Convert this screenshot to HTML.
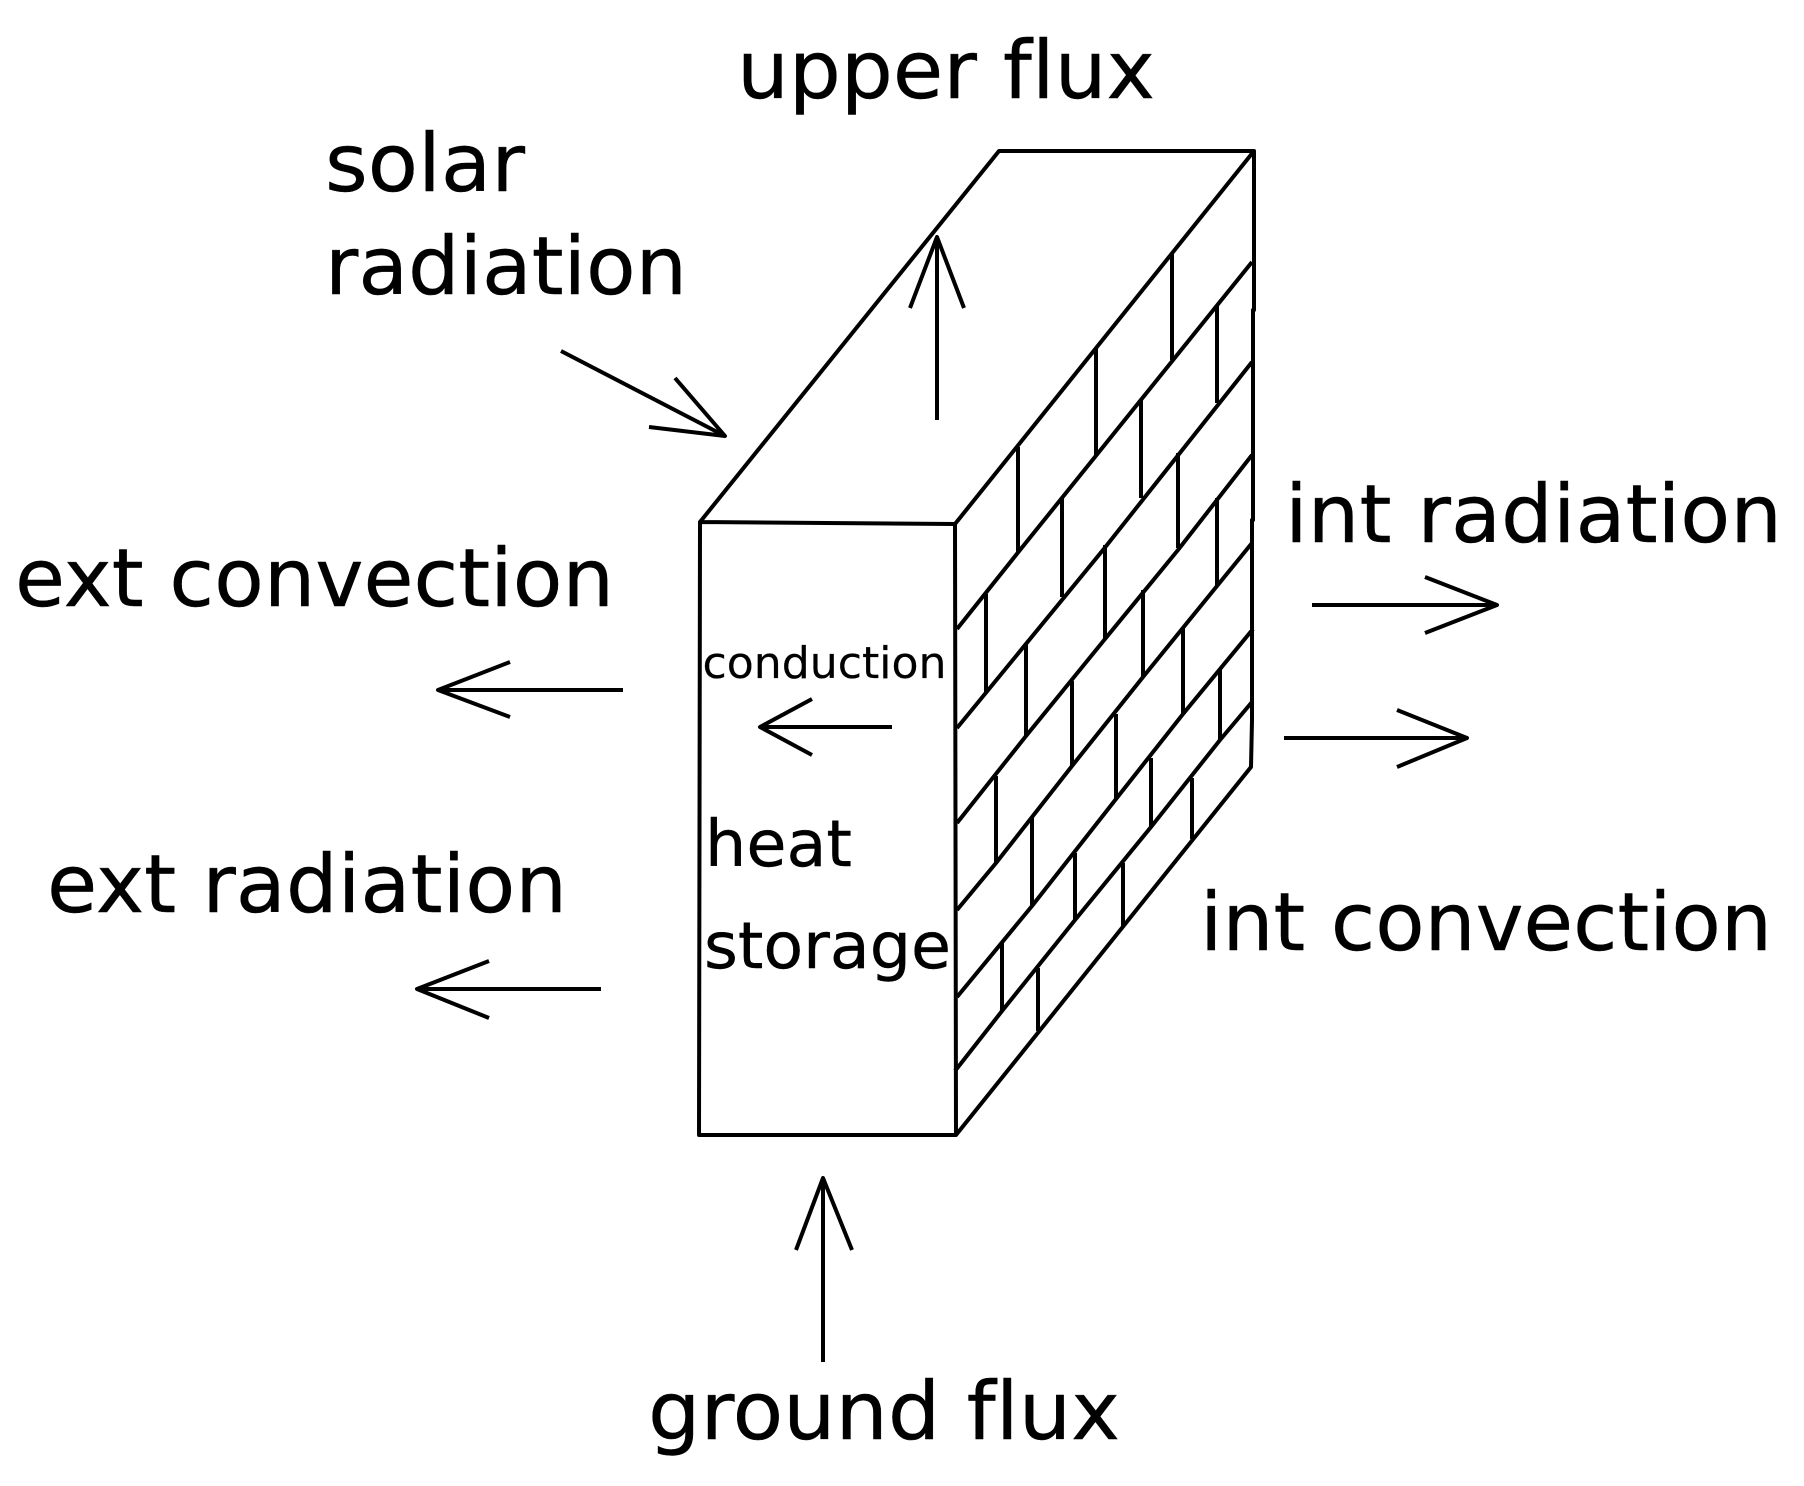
<!DOCTYPE html>
<html><head><meta charset="utf-8"><style>
html,body{margin:0;padding:0;background:#fff;width:1804px;height:1486px;overflow:hidden}
svg{display:block}
text{font-family:"DejaVu Sans",sans-serif;fill:#000;stroke:#000;stroke-width:.4px;font-variant-ligatures:none;font-feature-settings:"liga" 0,"clig" 0}
.b{font-size:80px}
.h{font-size:64px}
.c{font-size:44px;stroke-width:.2px}
</style></head><body>
<svg width="1804" height="1486" viewBox="0 0 1804 1486" xmlns="http://www.w3.org/2000/svg">
<g fill="none" stroke="#000" stroke-width="4" stroke-linejoin="round" stroke-linecap="butt">
<path d="M700 522L999 151H1254V310H1253V520H1252V720L1251 767L956 1135H699L700 522L955 524L956 1135"/>
<path d="M955 524L1254 151"/>
<path d="M957 629L1020 550L1252 262"/>
<path d="M957 728L1103 550L1252 362"/>
<path d="M957 823L1026 736L1105 639L1178 550L1252 455"/>
<path d="M957 910L996 863L1072 766L1143 677L1217 586L1252 543"/>
<path d="M957 997L1032 906L1116 799L1183 714L1253 629"/>
<path d="M955 1071L1002 1011L1075 920L1151 827L1220 740L1252 702"/>
<path d="M1172 253V360M1096 348V455M1018 447V552M1217 305V403M1141 400V498M1062 498V597M1178 453V548M1105 545V639M1217 498V586"/>
<path d="M986 594V693M1026 643V736M1072 681V766M1143 590V677M1183 627V714M1220 669V740M996 776V863M1032 817V906M1116 714V799M1151 758V827M1192 778V839M1075 853V920M1123 863V926M1002 942V1011M1038 968V1031"/>
<path d="M561 351L725 436M675 378L725 436L649 427"/>
<path d="M937 420V237M910 308L937 237L964 308"/>
<path d="M623 690H438M510 662L438 690L510 717"/>
<path d="M892 727H760M812 699L760 727L812 755"/>
<path d="M601 989H417M489 961L417 989L489 1018"/>
<path d="M1312 605H1497M1425 577L1497 605L1425 633"/>
<path d="M1284 738H1467M1397 710L1467 738L1397 767"/>
<path d="M823 1362V1178M796 1250L823 1178L852 1250"/>
</g>
<text class="b" x="737" y="98" textLength="418" lengthAdjust="spacingAndGlyphs">upper flux</text>
<text class="b" x="325" y="191" textLength="200" lengthAdjust="spacingAndGlyphs">solar</text>
<text class="b" x="325" y="294" textLength="362" lengthAdjust="spacingAndGlyphs">radiation</text>
<text class="b" x="15" y="606" textLength="599" lengthAdjust="spacingAndGlyphs">ext convection</text>
<text class="b" x="47" y="912" textLength="520" lengthAdjust="spacingAndGlyphs">ext radiation</text>
<text class="b" x="1285" y="542" textLength="497" lengthAdjust="spacingAndGlyphs">int radiation</text>
<text class="b" x="1200" y="950" textLength="572" lengthAdjust="spacingAndGlyphs">int convection</text>
<text class="b" x="648" y="1439" textLength="472" lengthAdjust="spacingAndGlyphs">ground flux</text>
<text class="h" x="705" y="866" textLength="147" lengthAdjust="spacingAndGlyphs">heat</text>
<text class="h" x="704" y="968" textLength="247" lengthAdjust="spacingAndGlyphs">storage</text>
<text class="c" x="702.5" y="678" textLength="244" lengthAdjust="spacingAndGlyphs">conduction</text>
</svg>
</body></html>
